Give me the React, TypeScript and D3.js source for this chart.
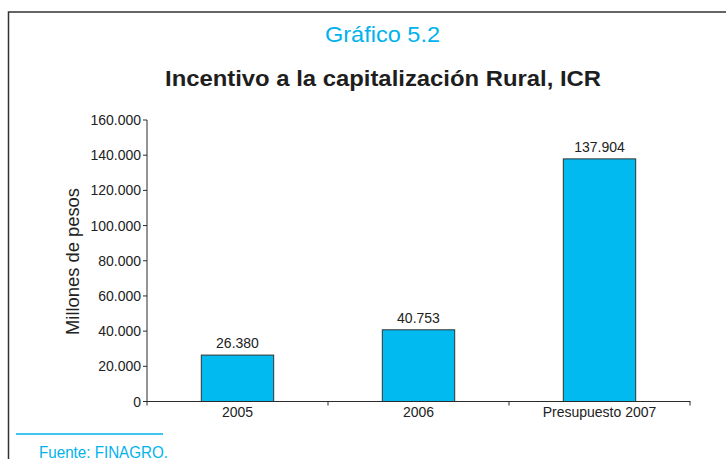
import React from "react";
import * as d3 from "d3";

const categories: string[] = ["2005", "2006", "Presupuesto 2007"];
const values: number[] = [26380, 40753, 137904];
const yTicks: number[] = [0, 20000, 40000, 60000, 80000, 100000, 120000, 140000, 160000];

const fmt = (v: number) => (v === 0 ? "0" : d3.format(",")(v).replace(/,/g, "."));

const W = 726;
const H = 459;
const CYAN = "#00B2EE";
const BAR = "#00BAF0";
const DARK = "#2b2b2b";
const FONT = "'Liberation Sans', Arial, Helvetica, sans-serif";

export default function App() {
  const x = d3
    .scaleBand<string>()
    .domain(categories)
    .range([147, 690])
    .paddingInner(0.6)
    .paddingOuter(0.3);
  const y = d3.scaleLinear().domain([0, 160000]).range([401.5, 120]);
  const step = x.step();
  const x0 = 147;
  const tickXs = d3.range(categories.length + 1).map((i) => x0 + i * step);

  return (
    <svg
      width={W}
      height={H}
      style={{ position: "absolute", left: 0, top: 0, display: "block", background: "#fff" }}
      fontFamily={FONT}
    >
      <rect x={0} y={0} width={W} height={H} fill="#fff" />
      {/* frame */}
      <path d={`M8.5,${H + 5} V12 H${W + 5}`} fill="none" stroke="#333" strokeWidth={1.5} />

      {/* titles */}
      <text x={382.5} y={42} textAnchor="middle" fontSize={22} fill={CYAN} textLength={115} lengthAdjust="spacingAndGlyphs">
        Gráfico 5.2
      </text>
      <text x={383} y={86} textAnchor="middle" fontSize={22} fontWeight="bold" fill="#1e1e1e" textLength={436} lengthAdjust="spacingAndGlyphs">
        Incentivo a la capitalización Rural, ICR
      </text>

      {/* y axis */}
      <line x1={147} x2={147} y1={y(160000)} y2={y(0)} stroke={DARK} strokeWidth={1} />
      {yTicks.map((t) => (
        <g key={t}>
          <line x1={143} x2={147} y1={y(t)} y2={y(t)} stroke={DARK} strokeWidth={1} />
          <text x={141} y={y(t) + 5} textAnchor="end" fontSize={14} fill="#222">
            {fmt(t)}
          </text>
        </g>
      ))}
      <text
        transform={`translate(79,261.5) rotate(-90)`}
        textAnchor="middle"
        fontSize={18}
        fill="#222"
        textLength={147}
        lengthAdjust="spacingAndGlyphs"
      >
        Millones de pesos
      </text>

      {/* bars */}
      {categories.map((c, i) => (
        <g key={c}>
          <rect
            x={x(c)!}
            y={y(values[i])}
            width={x.bandwidth()}
            height={y(0) - y(values[i])}
            fill={BAR}
            stroke="#333"
            strokeWidth={1}
          />
          <text x={x(c)! + x.bandwidth() / 2} y={y(values[i]) - 7} textAnchor="middle" fontSize={14} fill="#222">
            {fmt(values[i])}
          </text>
          <text x={x(c)! + x.bandwidth() / 2} y={417} textAnchor="middle" fontSize={14} fill="#222">
            {c}
          </text>
        </g>
      ))}

      {/* x axis */}
      <line x1={147} x2={690.5} y1={y(0)} y2={y(0)} stroke={DARK} strokeWidth={1} />
      {tickXs.map((tx, i) => (
        <line key={i} x1={tx} x2={tx} y1={y(0)} y2={y(0) + 4} stroke={DARK} strokeWidth={1} />
      ))}

      {/* source */}
      <line x1={16} x2={163} y1={434} y2={434} stroke={CYAN} strokeWidth={1.5} />
      <text x={39} y={457.5} fontSize={16.5} fill={CYAN} textLength={129} lengthAdjust="spacingAndGlyphs">
        Fuente: FINAGRO.
      </text>
    </svg>
  );
}
